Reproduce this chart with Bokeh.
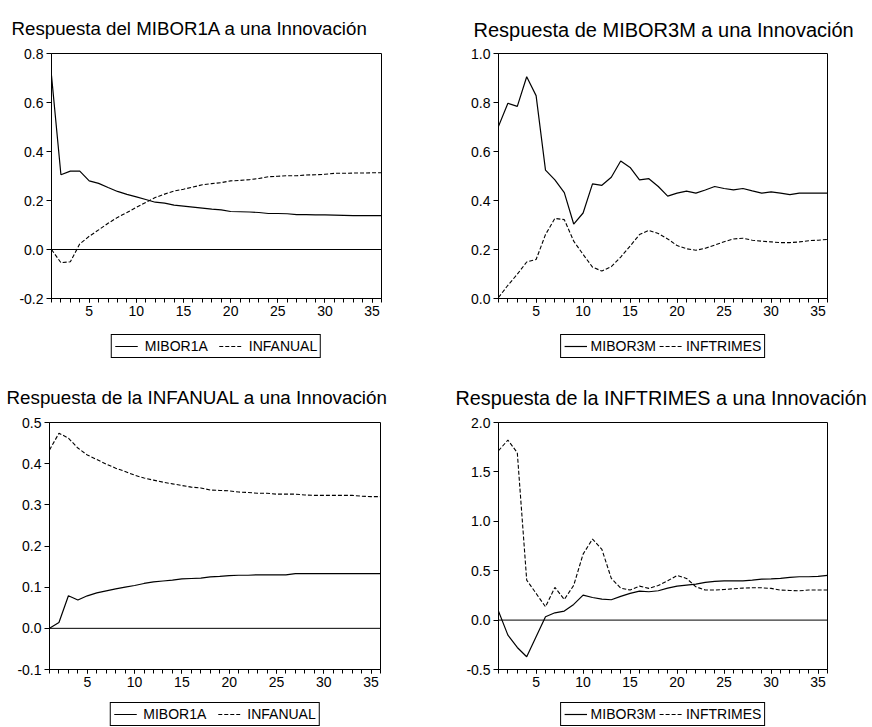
from bokeh.plotting import figure
from bokeh.models import (Range1d, FixedTicker, PrintfTickFormatter, Span, Legend,
                          LegendItem, Title)
from bokeh.layouts import column, row
from bokeh.embed import file_html
from bokeh.resources import INLINE

periods = list(range(1, 37))

# Panel 1: Respuesta del MIBOR1A
mibor1a_to_mibor1a = [0.71, 0.305, 0.32, 0.32, 0.28, 0.27, 0.253, 0.237, 0.225, 0.215,
                      0.204, 0.193, 0.189, 0.181, 0.177, 0.173, 0.169, 0.165, 0.162, 0.155,
                      0.154, 0.153, 0.151, 0.147, 0.147, 0.146, 0.142, 0.142, 0.141, 0.141,
                      0.140, 0.139, 0.138, 0.138, 0.138, 0.138]
mibor1a_to_infanual = [0.0, -0.054, -0.05, 0.023, 0.054, 0.08, 0.107, 0.131, 0.151, 0.172,
                       0.192, 0.212, 0.226, 0.239, 0.246, 0.255, 0.264, 0.269, 0.273, 0.28,
                       0.282, 0.285, 0.29, 0.297, 0.299, 0.301, 0.301, 0.304, 0.305, 0.307,
                       0.311, 0.311, 0.312, 0.312, 0.313, 0.313]

# Panel 2: Respuesta de MIBOR3M
mibor3m_to_mibor3m = [0.703, 0.797, 0.784, 0.905, 0.828, 0.524, 0.484, 0.432, 0.304, 0.349,
                      0.468, 0.462, 0.495, 0.561, 0.535, 0.484, 0.489, 0.457, 0.418, 0.43,
                      0.438, 0.43, 0.443, 0.457, 0.449, 0.443, 0.449, 0.439, 0.43, 0.435,
                      0.43, 0.424, 0.43, 0.43, 0.43, 0.43]
mibor3m_to_inftrimes = [0.004, 0.054, 0.099, 0.149, 0.159, 0.261, 0.327, 0.322, 0.234, 0.18,
                        0.128, 0.112, 0.13, 0.169, 0.214, 0.261, 0.278, 0.265, 0.243, 0.216,
                        0.203, 0.197, 0.205, 0.218, 0.232, 0.243, 0.246, 0.238, 0.234, 0.231,
                        0.228, 0.228, 0.231, 0.236, 0.238, 0.241]

# Panel 3: Respuesta de la INFANUAL
infanual_to_mibor1a = [0.0, 0.014, 0.079, 0.069, 0.079, 0.086, 0.091, 0.096, 0.1, 0.104,
                       0.109, 0.113, 0.115, 0.117, 0.12, 0.121, 0.122, 0.125, 0.126, 0.128,
                       0.129, 0.129, 0.13, 0.13, 0.13, 0.13, 0.133, 0.133, 0.133, 0.133,
                       0.133, 0.133, 0.133, 0.133, 0.133, 0.133]
infanual_to_infanual = [0.433, 0.474, 0.462, 0.438, 0.421, 0.41, 0.399, 0.389, 0.381, 0.372,
                        0.365, 0.36, 0.355, 0.351, 0.347, 0.343, 0.341, 0.336, 0.335, 0.334,
                        0.331, 0.33, 0.328, 0.328, 0.326, 0.326, 0.326, 0.324, 0.323, 0.323,
                        0.323, 0.323, 0.323, 0.321, 0.32, 0.32]

# Panel 4: Respuesta de la INFTRIMES
inftrimes_to_mibor3m = [0.091, -0.152, -0.277, -0.371, -0.169, 0.034, 0.074, 0.091, 0.159, 0.253,
                        0.229, 0.213, 0.206, 0.24, 0.27, 0.294, 0.287, 0.297, 0.324, 0.344,
                        0.354, 0.364, 0.381, 0.391, 0.398, 0.398, 0.398, 0.405, 0.415, 0.418,
                        0.422, 0.432, 0.439, 0.439, 0.442, 0.452]
inftrimes_to_inftrimes = [1.714, 1.822, 1.694, 0.405, 0.27, 0.135, 0.331, 0.209, 0.351, 0.668,
                          0.82, 0.715, 0.422, 0.324, 0.304, 0.344, 0.321, 0.351, 0.398, 0.452,
                          0.422, 0.337, 0.304, 0.304, 0.31, 0.317, 0.324, 0.327, 0.327, 0.321,
                          0.304, 0.3, 0.297, 0.304, 0.304, 0.304]

x_major_ticks = [5, 10, 15, 20, 25, 30, 35]

titles = ["Respuesta del MIBOR1A a una Innovación",
          "Respuesta de MIBOR3M a una Innovación",
          "Respuesta de la INFANUAL a una Innovación",
          "Respuesta de la INFTRIMES a una Innovación"]
legend_labels = [["MIBOR1A", "INFANUAL"], ["MIBOR3M", "INFTRIMES"],
                 ["MIBOR1A", "INFANUAL"], ["MIBOR3M", "INFTRIMES"]]
y_ranges = [(-0.2, 0.8), (0.0, 1.0), (-0.1, 0.5), (-0.5, 2.0)]
y_ticks = [[-0.2, 0.0, 0.2, 0.4, 0.6, 0.8],
           [0.0, 0.2, 0.4, 0.6, 0.8, 1.0],
           [-0.1, 0.0, 0.1, 0.2, 0.3, 0.4, 0.5],
           [-0.5, 0.0, 0.5, 1.0, 1.5, 2.0]]

FONT = "Liberation Sans"
FRAME_H = 247
SOLID = dict(line_color="black", line_width=1.2)
DASHED = dict(line_color="black", line_width=1.1, line_dash="4 2")


def make_panel(idx, solid, dashed, b_left, b_right, b_top, b_bottom, frame_w,
               title_offset, title_standoff, title_size):
    p = figure(width=b_left + frame_w + b_right, height=b_top + FRAME_H + b_bottom,
               x_range=Range1d(1, 36), y_range=Range1d(*y_ranges[idx]),
               output_backend="svg", toolbar_location=None,
               min_border_left=b_left, min_border_right=b_right,
               min_border_top=b_top, min_border_bottom=b_bottom,
               background_fill_color="white", border_fill_color="white")
    p.xgrid.visible = False
    p.ygrid.visible = False
    p.outline_line_color = "black"
    p.outline_line_width = 1
    p.outline_line_alpha = 1

    t = Title(text=titles[idx], align="left", vertical_align="top",
              offset=title_offset, standoff=title_standoff,
              text_font=FONT, text_font_size=title_size, text_font_style="normal",
              text_color="black")
    p.add_layout(t, "above")

    xa = p.xaxis[0]
    xa.ticker = FixedTicker(ticks=x_major_ticks, minor_ticks=periods)
    xa.major_tick_in = 0
    xa.major_tick_out = 4
    xa.minor_tick_in = 0
    xa.minor_tick_out = 4
    xa.major_label_standoff = 3
    ya = p.yaxis[0]
    ya.ticker = FixedTicker(ticks=y_ticks[idx], minor_ticks=[])
    ya.formatter = PrintfTickFormatter(format="%.1f")
    ya.major_tick_in = 0
    ya.major_tick_out = 5
    ya.major_label_standoff = 3
    for ax in (xa, ya):
        ax.axis_line_color = "black"
        ax.major_tick_line_color = "black"
        ax.minor_tick_line_color = "black"
        ax.major_label_text_font = FONT
        ax.major_label_text_font_size = "14px"
        ax.major_label_text_color = "black"

    p.add_layout(Span(location=0, dimension="width", line_color="black", line_width=1))

    p.line(periods, solid, **SOLID)
    p.line(periods, dashed, **DASHED)
    return p


def make_legend(idx, b_left, b_right, frame_w, height, top, spacing, standoff):
    lf = figure(width=b_left + frame_w + b_right, height=height,
                x_range=Range1d(0, 1), y_range=Range1d(0, 1),
                output_backend="svg", toolbar_location=None,
                x_axis_location=None, y_axis_location=None,
                min_border_left=b_left, min_border_right=b_right,
                min_border_top=top, min_border_bottom=0,
                background_fill_color="white", border_fill_color="white")
    lf.outline_line_color = None
    for g in lf.grid:
        g.visible = False
    # placeholder renderers (no visible data) that only carry the legend line styles
    r1 = lf.line(x=[float("nan")], y=[float("nan")], **SOLID)
    r2 = lf.line(x=[float("nan")], y=[float("nan")], **DASHED)
    leg = Legend(items=[LegendItem(label=legend_labels[idx][0], renderers=[r1]),
                        LegendItem(label=legend_labels[idx][1], renderers=[r2])],
                 orientation="horizontal", location="center",
                 border_line_color="black", border_line_width=1, border_line_alpha=1,
                 background_fill_color="white", background_fill_alpha=1,
                 label_text_font=FONT, label_text_font_size="14px", label_text_color="black",
                 glyph_width=23, glyph_height=14, label_height=14, label_standoff=standoff,
                 padding=3, spacing=spacing, margin=0)
    lf.add_layout(leg)
    return lf


p1 = make_panel(0, mibor1a_to_mibor1a, mibor1a_to_infanual, 51, 55, 51, 24, 330, -40, 26, "18.7px")
p2 = make_panel(1, mibor3m_to_mibor3m, mibor3m_to_inftrimes, 62, 45, 53, 22, 329, -25, 22, "20px")
p3 = make_panel(2, infanual_to_mibor1a, infanual_to_infanual, 49, 56, 60, 24, 331, -43, 25, "18.8px")
p4 = make_panel(3, inftrimes_to_mibor3m, inftrimes_to_inftrimes, 62, 45, 60, 24, 329, -43, 23, "19.8px")

l1 = make_legend(0, 51, 55, 330, 40, 8, 11, 7)
l2 = make_legend(1, 62, 45, 329, 40, 8, 3, 4)
l3 = make_legend(2, 49, 56, 331, 33, 8, 11, 7)
l4 = make_legend(3, 62, 45, 329, 33, 8, 3, 4)

layout = column(row(p1, p2), row(l1, l2), row(p3, p4), row(l3, l4))

open("out.html", "w").write(file_html(layout, INLINE))
